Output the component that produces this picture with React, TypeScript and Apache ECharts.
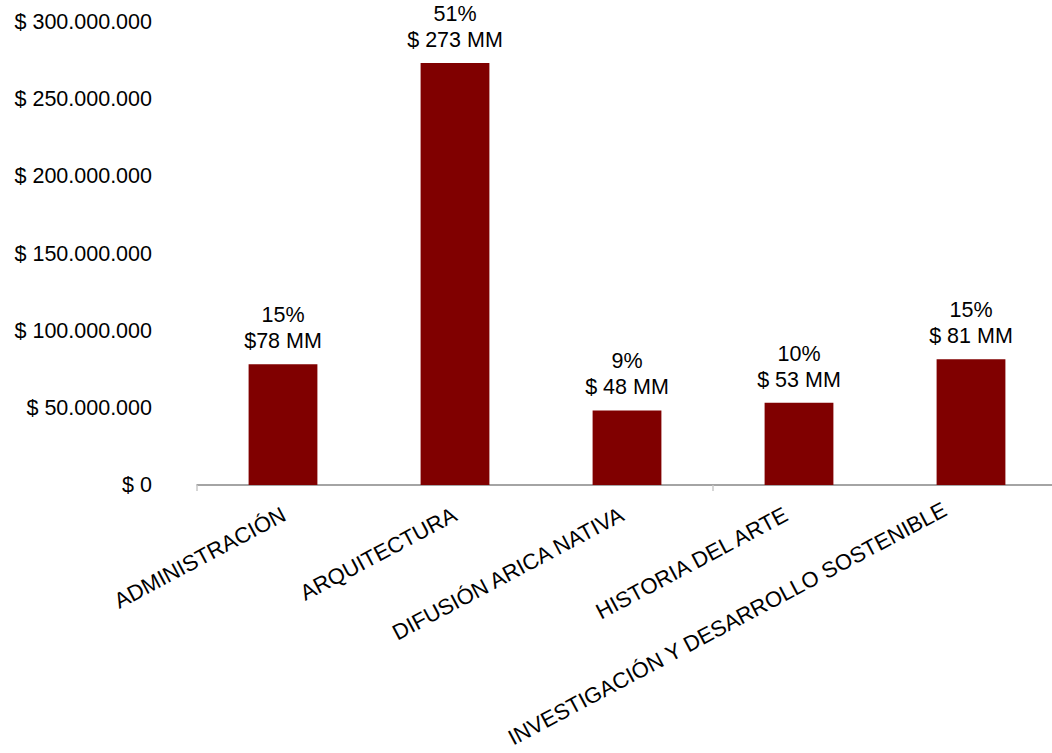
import React, { useEffect, useRef } from "react";
import * as echarts from "echarts";

const categories = [
  "ADMINISTRACIÓN",
  "ARQUITECTURA",
  "DIFUSIÓN ARICA NATIVA",
  "HISTORIA DEL ARTE",
  "INVESTIGACIÓN Y DESARROLLO SOSTENIBLE",
];
const values = [78200000, 273500000, 48300000, 53300000, 81400000];
const percentLabels = ["15%", "51%", "9%", "10%", "15%"];
const amountLabels = ["$78 MM", "$ 273 MM", "$ 48 MM", "$ 53 MM", "$ 81 MM"];
const yTicks = [0, 50000000, 100000000, 150000000, 200000000, 250000000, 300000000];

const FONT = "'Liberation Sans', Arial, sans-serif";
const FONT_SIZE = 21.5;
const X_FONT_SIZE = 22;
const ROT = 28;
const LABEL_MARGIN = 28;
// screen offsets [dx, dy] of each category label from its tick anchor (layout only)
const LABEL_OFFSETS: [number, number][] = [
  [1, 0],
  [0, 0],
  [-5, 0],
  [-13, 0],
  [-26, -5],
];

function fmtMoney(v: number): string {
  const s = Math.round(v).toString().replace(/\B(?=(\d{3})+(?!\d))/g, ".");
  return "$ " + s;
}

export default function App() {
  const ref = useRef<HTMLDivElement>(null);
  useEffect(() => {
    if (!ref.current) return;
    const chart = echarts.init(ref.current, undefined, { renderer: "svg" });
    chart.setOption({
      animation: false,
      backgroundColor: "#ffffff",
      grid: {
        left: 197,
        top: 22,
        width: 860,
        height: 463,
        containLabel: false,
        outerBoundsMode: "none",
      },
      xAxis: {
        type: "category",
        data: categories,
        axisLine: { show: true, lineStyle: { color: "#868686", width: 1.5 } },
        axisTick: {
          show: true,
          alignWithLabel: false,
          length: 6,
          inside: false,
          lineStyle: { color: "#c8c8c8", width: 1.5 },
        },
        axisLabel: { show: false },
        splitLine: { show: false },
      },
      yAxis: {
        type: "value",
        min: yTicks[0],
        max: yTicks[yTicks.length - 1],
        interval: yTicks[1] - yTicks[0],
        axisLine: { show: false },
        axisTick: { show: false },
        splitLine: { show: false },
        axisLabel: {
          margin: 45,
          color: "#000",
          fontFamily: FONT,
          fontSize: FONT_SIZE,
          formatter: (v: number) => fmtMoney(v),
        },
      },
      series: [
        {
          type: "bar",
          data: values,
          barWidth: "40%",
          itemStyle: { color: "#800000" },
          label: {
            show: true,
            position: "top",
            distance: 10,
            color: "#000",
            fontFamily: FONT,
            fontSize: FONT_SIZE,
            lineHeight: 26,
            align: "center",
            formatter: (p: any) =>
              percentLabels[p.dataIndex] + "\n" + amountLabels[p.dataIndex],
          },
        },
      ],
    });
    // category labels, anchored at the axis' own pixel positions
    const axisY = chart.convertToPixel({ yAxisIndex: 0 }, yTicks[0]) as number;
    const rot = (ROT * Math.PI) / 180;
    const graphics = categories.map((name, i) => {
      const cx = chart.convertToPixel({ xAxisIndex: 0 }, name) as number;
      const [dx, dy] = LABEL_OFFSETS[i];
      return {
        type: "text",
        x: cx + dx,
        y: axisY + LABEL_MARGIN + dy,
        rotation: rot,
        silent: true,
        style: {
          text: name,
          fill: "#000",
          fontFamily: FONT,
          fontSize: X_FONT_SIZE,
          align: "right",
          verticalAlign: "middle",
        },
      };
    });
    chart.setOption({ graphic: graphics });
    return () => chart.dispose();
  }, []);
  return (
    <div
      ref={ref}
      style={{ position: "fixed", left: 0, top: 0, width: 1052, height: 753, background: "#fff" }}
    />
  );
}
